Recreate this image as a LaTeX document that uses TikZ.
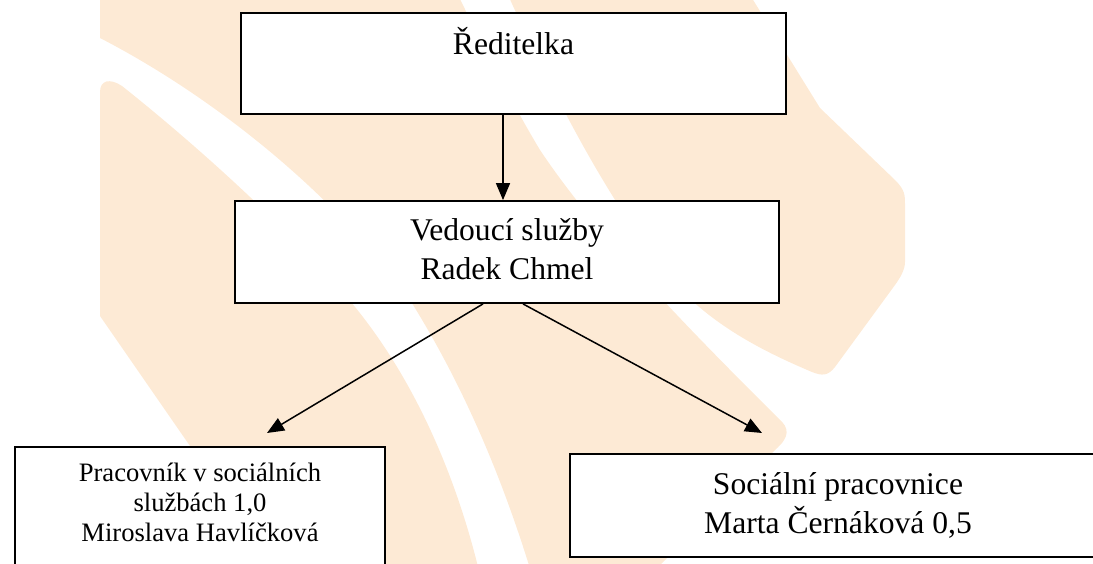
\documentclass[tikz,border=0pt]{standalone}
\usepackage{fontspec}
\setmainfont{Liberation Serif}
\usetikzlibrary{arrows.meta}
\definecolor{peach}{RGB}{253,234,213}
\begin{document}
\begin{tikzpicture}[x=1pt,y=-1pt,
  box/.style={draw=black, line width=1.8pt, fill=white, inner sep=0pt, align=center},
  bigtext/.style={font=\fontsize{31.6}{39}\selectfont},
  smalltext/.style={font=\fontsize{26.6}{29.8}\selectfont},
  conn/.style={line width=1.5pt, -{Triangle[length=17pt,width=14pt]}},
  band/.style={fill=peach}]
\useasboundingbox (0,0) rectangle (1093,564);
\begin{scope}
\clip (0,0) rectangle (1093,564);
% background watermark bands
\fill[band] (100,92) -- (100,316) -- (190,446) -- (276,575) -- (480,575)
  .. controls (455,470) and (410,370) .. (345,295)
  .. controls (280,220) and (190,140) .. (122,86)
  .. controls (110,78) and (100,80) .. (100,92) -- cycle;
\fill[band] (100,-5) -- (100,38)
  .. controls (220,100) and (340,200) .. (410,300)
  .. controls (460,380) and (500,470) .. (532,575)
  -- (650,575) -- (775,450)
  .. controls (790,437) and (790,428) .. (778,418)
  .. controls (700,340) and (600,240) .. (540,150)
  .. controls (510,100) and (480,40) .. (458,-5) -- cycle;
\fill[band] (508,-5) -- (750,-5) -- (820,108) -- (895,180)
  .. controls (905,190) and (905,195) .. (905,205) -- (905,262)
  .. controls (905,270) and (900,278) .. (895,285) -- (835,367)
  .. controls (828,376) and (822,376) .. (812,372)
  .. controls (760,350) and (700,320) .. (660,265)
  .. controls (610,200) and (560,110) .. (508,-5) -- cycle;
% boxes
\node[box,bigtext,minimum width=545pt,minimum height=101pt,text height=28pt,text depth=45pt] (dir) at (513.5,63.5) {Ředitelka};
\node[box,bigtext,minimum width=544pt,minimum height=102pt] (ved) at (507,252) {Vedoucí služby\\Radek Chmel\rule[-6pt]{0pt}{6pt}};
\node[box,smalltext,minimum width=370pt,minimum height=130pt] (prac) at (200,512) {Pracovník v sociálních\\službách 1,0\\Miroslava Havlíčková\rule[-19pt]{0pt}{19pt}};
\node[box,bigtext,minimum width=536pt,minimum height=103pt] (soc) at (838,505.5) {Sociální pracovnice\\Marta Černáková 0,5};
\end{scope}
\coordinate (tipL) at (267,433);
\coordinate (tipR) at (762,433);
\draw[conn] ([xshift=-10.5pt]dir.south) -- ([xshift=-4pt]ved.north);
\draw[conn] ([xshift=-24pt]ved.south) -- (tipL);
\draw[conn] ([xshift=16pt]ved.south) -- (tipR);
\end{tikzpicture}
\end{document}
